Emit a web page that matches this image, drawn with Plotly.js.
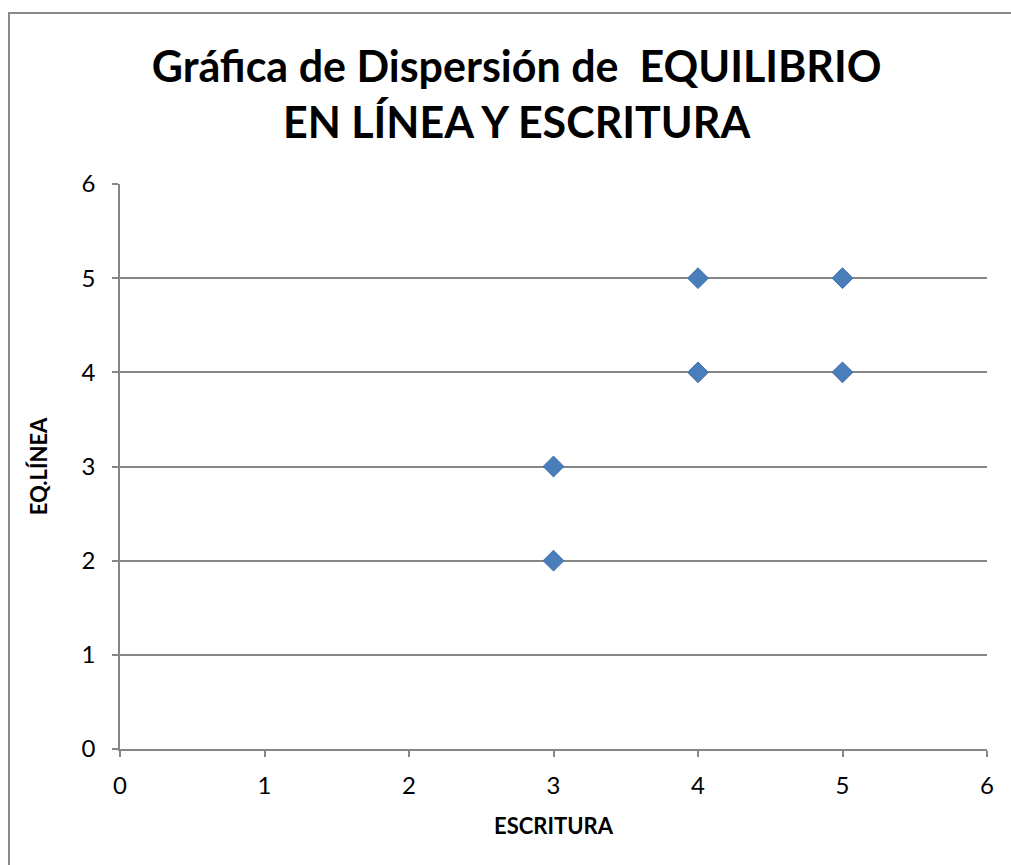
<!DOCTYPE html>
<html>
<head>
<meta charset="utf-8">
<script src="https://cdn.plot.ly/plotly-3.0.1.min.js"></script>
<style>
html,body{margin:0;padding:0;background:#fff;overflow:hidden;}
#wrap{position:relative;width:1011px;height:865px;}
#chart{position:absolute;left:0;top:0;width:1011px;height:865px;}
#frame{position:absolute;left:8px;top:12px;width:1020px;height:870px;border:2px solid #8a8a8a;box-sizing:border-box;pointer-events:none;}
</style>
</head>
<body>
<div id="wrap">
<div id="chart"></div>
<div id="frame"></div>
</div>
<script>
const escritura = [3, 3, 4, 4, 5, 5];
const eqLinea   = [3, 2, 5, 4, 5, 4];
const tickVals  = [0, 1, 2, 3, 4, 5, 6];
const tickText  = ["0", "1", "2", "3", "4", "5", "6"];
const chartTitle = "Gráfica de Dispersión de  EQUILIBRIO<br>EN LÍNEA Y ESCRITURA";
const xTitle = "ESCRITURA";
const yTitle = "EQ.LÍNEA";

const FONT = "Lato, 'Open Sans', sans-serif";

const trace = {
  x: escritura,
  y: eqLinea,
  type: "scatter",
  mode: "markers",
  marker: {symbol: "diamond", size: 16, color: "#4a7ebb", line: {color: "#3e6ea8", width: 1}},
  hoverinfo: "x+y"
};

const layout = {
  width: 1011,
  height: 865,
  paper_bgcolor: "rgba(0,0,0,0)",
  plot_bgcolor: "#ffffff",
  margin: {l: 120, r: 24, t: 184, b: 116},
  showlegend: false,
  font: {family: FONT, color: "#000"},
  title: {
    text: chartTitle,
    font: {family: FONT, size: 43, color: "#000", weight: "bold"},
    x: 0.511, xanchor: "center",
    y: 0.905, yanchor: "top"
  },
  xaxis: {
    range: [0, 6],
    tickvals: tickVals,
    ticktext: tickText,
    showgrid: false,
    zeroline: false,
    showline: true,
    linecolor: "#868686",
    linewidth: 1.5,
    ticks: "outside",
    ticklen: 6,
    tickcolor: "#868686",
    tickwidth: 1.5,
    ticklabelstandoff: 8,
    tickfont: {family: FONT, size: 24, color: "#000"},
    title: {text: xTitle, font: {family: FONT, size: 22, color: "#000", weight: "bold"}, standoff: 21},
    fixedrange: true
  },
  yaxis: {
    range: [0, 6],
    tickvals: tickVals,
    ticktext: tickText,
    showgrid: true,
    gridcolor: "#868686",
    gridwidth: 1.5,
    zeroline: false,
    showline: true,
    linecolor: "#868686",
    linewidth: 1.5,
    ticks: "outside",
    ticklen: 6,
    tickcolor: "#868686",
    tickwidth: 1.5,
    ticklabelstandoff: 12,
    tickfont: {family: FONT, size: 24, color: "#000"},
    title: {text: yTitle, font: {family: FONT, size: 22, color: "#000", weight: "bold"}, standoff: 28},
    fixedrange: true
  }
};

Plotly.newPlot("chart", [trace], layout, {displayModeBar: false});
</script>
</body>
</html>
